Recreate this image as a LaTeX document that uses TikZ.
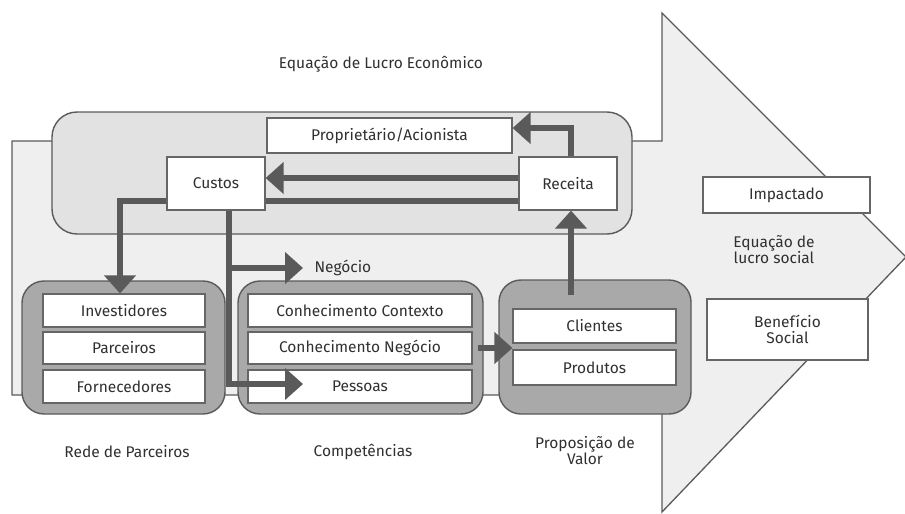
\documentclass[tikz,border=0pt]{standalone}
\usepackage{fontspec}
\setmainfont{Fira Sans}
\usetikzlibrary{arrows.meta}

\definecolor{shaftgray}{HTML}{EFEFEF}
\definecolor{topgray}{HTML}{E2E2E2}
\definecolor{groupgray}{HTML}{A9A9A9}
\definecolor{linegray}{HTML}{5A5A5A}
\definecolor{textgray}{HTML}{303030}

\tikzset{
  whitebox/.style={draw=gray!80!black, line width=1.2pt, fill=white, inner sep=0pt,
    align=center, font=\fontsize{15.5}{16}\selectfont},
  groupbox/.style={draw=linegray, line width=1.4pt, fill=groupgray, rounded corners=22pt},
  label/.style={align=center, font=\fontsize{15.5}{16}\selectfont},
  conn/.style={draw=linegray, line width=6pt},
  connarrow/.style={conn, -{Triangle[length=18pt,width=31pt]}}
}

\begin{document}
\begin{tikzpicture}[x=1pt,y=-1pt,color=textgray]
		\useasboundingbox (0,0) rectangle (905,514);
		% big arrow in the background
		\path[draw=linegray,line width=1.3pt,fill=shaftgray] (12,141) -- (662,141) -- (662,13) -- (906,257)
			-- (662,512) -- (662,395) -- (12,395) -- cycle;
		% grouped areas
		\path[groupbox,fill=topgray,rounded corners=25pt] (52,112) rectangle (632,234);
		\path[groupbox] (22,281) rectangle (225,414);
		\path[groupbox] (238,281) rectangle (483,414);
		\path[groupbox] (499,280) rectangle (691,414);

		\node[label] (tEco) at (381,64) {Equação de Lucro Econômico};

		\node[whitebox, minimum width=245pt, minimum height=35pt] (prop) at (389.5,135.5) {Proprietário/Acionista};
		\node[whitebox, minimum width=98pt, minimum height=53pt] (cus) at (216,183.5) {Custos};
		\node[whitebox, minimum width=98pt, minimum height=53pt] (rec) at (568,183.5) {Receita};

		\node[whitebox, minimum width=162pt, minimum height=33pt] (inv) at (124,310.5) {Investidores};
		\node[whitebox, minimum width=162pt, minimum height=32pt] (par) at (124,348) {Parceiros};
		\node[whitebox, minimum width=162pt, minimum height=33pt] (forn) at (124,386.5) {Fornecedores};

		\node[whitebox, minimum width=224pt, minimum height=33pt] (ccon) at (360,310.5) {Conhecimento Contexto};
		\node[whitebox, minimum width=224pt, minimum height=32pt] (cneg) at (360,348) {Conhecimento Negócio};
		\node[whitebox, minimum width=224pt, minimum height=33pt] (pes) at (360,386.5) {Pessoas};

		\node[whitebox, minimum width=163pt, minimum height=34pt] (cli) at (594.5,326) {Clientes};
		\node[whitebox, minimum width=163pt, minimum height=35pt] (prod) at (594.5,367.5) {Produtos};

		\node[whitebox, minimum width=167pt, minimum height=36pt] (imp) at (786.5,195) {Impactado};
		\node[whitebox, minimum width=161pt, minimum height=61pt] (ben) at (787.5,329.5) {Benefício\\Social};

		\node[label] (tSoc) at (774,249.5) {Equação de\\lucro social};
		\node[label] (tRede) at (127,452) {Rede de Parceiros};
		\node[label] (tComp) at (363,452) {Competências};
		\node[label] (tProp) at (585,451) {Proposição de\\Valor};
		\node[label, anchor=west] (neg) at (311,268) {Negócio};

		% connectors
		\coordinate (cusDown) at ([xshift=13pt]cus.south);
		\coordinate (negTip) at (303,268);
		\coordinate (pesTip) at (303,384);
		\draw[connarrow] ([yshift=5.5pt]rec.west) -- ([yshift=5.5pt]cus.east);
		\draw[conn] ([yshift=-17.5pt]cus.east) -- ([yshift=-17.5pt]rec.west);
		\draw[connarrow] ([xshift=3pt]rec.north) |- ([yshift=7.5pt]prop.east);
		\draw[connarrow] ([yshift=-17.5pt]cus.west) -| ([xshift=-4pt]inv.north);
		\draw[connarrow] (cusDown) |- (pesTip);
		\draw[connarrow] (cusDown |- negTip) -- (negTip);
		\draw[connarrow] ([xshift=-23.5pt,yshift=13pt]cli.north) -- ([xshift=3pt]rec.south);
		\draw[connarrow] ([xshift=5pt]cneg.east) -- (cli.west |- cneg.east);
	\end{tikzpicture}
\end{document}
